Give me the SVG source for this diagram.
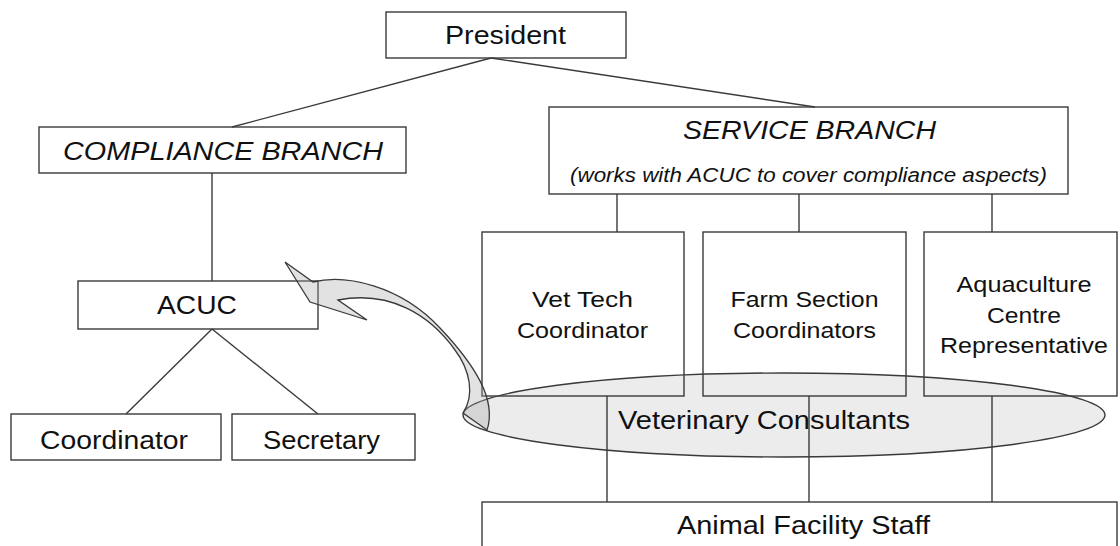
<svg xmlns="http://www.w3.org/2000/svg" width="1120" height="546" viewBox="0 0 1120 546">
<style>
.box{fill:none;stroke:#3a3a3a;stroke-width:1.4}
.ln{stroke:#3a3a3a;stroke-width:1.4;fill:none}
text{font-family:"Liberation Sans",Arial,sans-serif;fill:#111;text-anchor:middle}
.big{font-size:25px}
.it{font-style:italic}
.mid{font-size:22px}
.sm{font-size:20px}
</style>
<rect width="1120" height="546" fill="#fff"/>
<g id="vet-consultants">
<ellipse cx="784" cy="415" rx="321" ry="42" fill="#ececec" stroke="#3a3a3a" stroke-width="1.4"/>
</g>
<g id="connectors">
<line class="ln" x1="491" y1="58" x2="232" y2="127"/>
<line class="ln" x1="491" y1="58" x2="815" y2="107"/>
<line class="ln" x1="212" y1="173" x2="212" y2="281"/>
<line class="ln" x1="212" y1="329" x2="126" y2="414"/>
<line class="ln" x1="212" y1="329" x2="318" y2="414"/>
<line class="ln" x1="617" y1="194" x2="617" y2="232"/>
<line class="ln" x1="799" y1="194" x2="799" y2="232"/>
<line class="ln" x1="992" y1="194" x2="992" y2="232"/>
<line class="ln" x1="607" y1="396" x2="607" y2="502"/>
<line class="ln" x1="809" y1="396" x2="809" y2="502"/>
<line class="ln" x1="992" y1="396" x2="992" y2="502"/>
</g>
<g id="president"><rect class="box" x="386" y="12" width="240" height="46"/><text class="big" x="505.5" y="44" textLength="121" lengthAdjust="spacingAndGlyphs">President</text></g>
<g id="compliance"><rect class="box" x="39" y="127" width="367" height="46"/><text class="big it" x="223" y="160" textLength="320" lengthAdjust="spacingAndGlyphs">COMPLIANCE BRANCH</text></g>
<g id="acuc"><rect class="box" x="78" y="281" width="240" height="48"/><text class="big" x="197" y="314" textLength="80" lengthAdjust="spacingAndGlyphs">ACUC</text></g>
<g id="coordinator"><rect class="box" x="11" y="414" width="210" height="46"/><text class="big" x="114" y="449" textLength="148" lengthAdjust="spacingAndGlyphs">Coordinator</text></g>
<g id="secretary"><rect class="box" x="232" y="414" width="183" height="46"/><text class="big" x="321.5" y="449" textLength="117" lengthAdjust="spacingAndGlyphs">Secretary</text></g>
<g id="service"><rect class="box" x="549" y="107" width="519" height="87"/><text class="big it" x="809.5" y="139" textLength="253" lengthAdjust="spacingAndGlyphs">SERVICE BRANCH</text><text class="sm it" x="808.5" y="182" textLength="477" lengthAdjust="spacingAndGlyphs">(works with ACUC to cover compliance aspects)</text></g>
<g id="vettech"><rect class="box" x="482" y="232" width="202" height="164"/><text class="mid" x="582.5" y="307" textLength="101" lengthAdjust="spacingAndGlyphs">Vet Tech</text><text class="mid" x="582.5" y="338" textLength="131" lengthAdjust="spacingAndGlyphs">Coordinator</text></g>
<g id="farm"><rect class="box" x="703" y="232" width="203" height="164"/><text class="mid" x="804.5" y="307" textLength="148" lengthAdjust="spacingAndGlyphs">Farm Section</text><text class="mid" x="804.5" y="338" textLength="143" lengthAdjust="spacingAndGlyphs">Coordinators</text></g>
<g id="aqua"><rect class="box" x="924" y="232" width="193" height="164"/><text class="mid" x="1024" y="292" textLength="135" lengthAdjust="spacingAndGlyphs">Aquaculture</text><text class="mid" x="1024" y="323" textLength="74" lengthAdjust="spacingAndGlyphs">Centre</text><text class="mid" x="1024" y="353" textLength="168" lengthAdjust="spacingAndGlyphs">Representative</text></g>
<g id="staff"><rect class="box" x="482" y="502" width="635" height="60"/><text class="big" x="803.5" y="534" textLength="253" lengthAdjust="spacingAndGlyphs">Animal Facility Staff</text></g>
<g id="vet-label"><text class="big" x="764" y="429" textLength="292" lengthAdjust="spacingAndGlyphs">Veterinary Consultants</text></g>
<g id="arrow">
<path d="M 285,262 L 313,282 C 345,274 400,285 440,328 C 475,365 497,400 487,430 L 463,413 C 475,395 470,370 455,350 C 430,315 390,290 338,300 L 367,320 L 310,302 Z" fill="#a8a8a8" fill-opacity="0.33" stroke="#3a3a3a" stroke-width="1.3" stroke-linejoin="miter"/>
</g>
</svg>
